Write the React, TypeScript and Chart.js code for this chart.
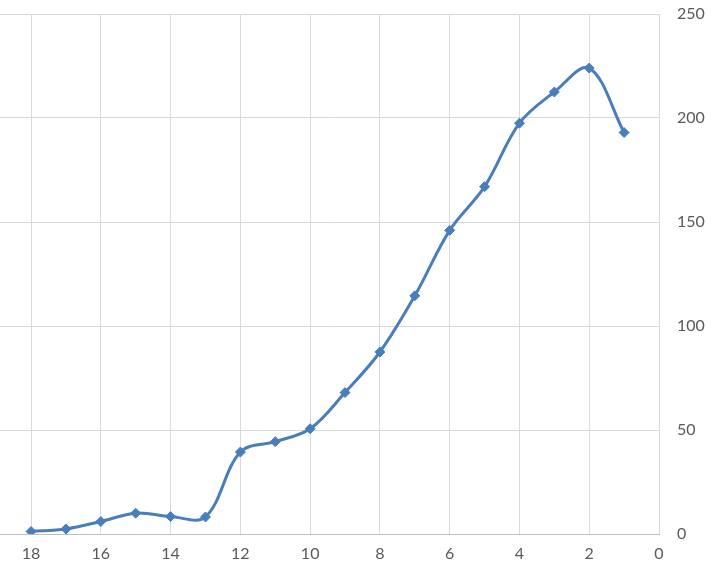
import React, { useEffect, useRef } from "react";
import { Chart, registerables } from "chart.js";

Chart.register(...registerables);

const xValues = [18, 17, 16, 15, 14, 13, 12, 11, 10, 9, 8, 7, 6, 5, 4, 3, 2, 1];
const yValues = [1.2, 2.4, 6, 10, 8.4, 8.2, 39.4, 44.4, 50.6, 68, 87.5, 114.5, 146, 167, 197.5, 212.5, 224, 193];
const xTickValues = [18, 16, 14, 12, 10, 8, 6, 4, 2, 0];
const yTickValues = [0, 50, 100, 150, 200, 250];

export default function App() {
  const ref = useRef<HTMLCanvasElement | null>(null);

  useEffect(() => {
    document.body.style.margin = "0";
    const canvas = ref.current;
    if (!canvas) return;
    const chart = new Chart(canvas, {
      type: "line",
      data: {
        datasets: [
          {
            data: xValues.map((x, i) => ({ x, y: yValues[i] })),
            borderColor: "#4A7EBB",
            backgroundColor: "#4A7EBB",
            borderWidth: 3,
            pointStyle: "rectRot",
            pointRadius: 5,
            pointBorderWidth: 1,
            tension: 0.35,
            fill: false,
          },
        ],
      },
      options: {
        animation: false,
        responsive: false,
        maintainAspectRatio: false,
        devicePixelRatio: 1,
        layout: { autoPadding: false, padding: { left: 0, right: 0, top: 14, bottom: 0 } },
        plugins: { legend: { display: false }, tooltip: { enabled: false } },
        scales: {
          x: {
            type: "linear",
            reverse: true,
            min: 0,
            max: 18.89,
            afterBuildTicks: (scale: any) => {
              scale.ticks = xTickValues.map((v) => ({ value: v }));
            },
            afterFit: (scale: any) => {
              scale.height = 39;
              scale.paddingLeft = 0;
              scale.paddingRight = 0;
            },
            ticks: {
              padding: 10,
              color: "#595959",
              font: { family: "Lato", size: 16 },
              callback: (v: any) => String(v),
            },
            grid: { color: "#D9D9D9", lineWidth: 1, drawTicks: false },
            border: { display: true, color: "#BFBFBF", width: 1 },
          },
          y: {
            type: "linear",
            position: "right",
            min: 0,
            max: 250,
            afterBuildTicks: (scale: any) => {
              scale.ticks = yTickValues.map((v) => ({ value: v }));
            },
            afterFit: (scale: any) => {
              scale.width = 53;
              scale.paddingTop = 0;
              scale.paddingBottom = 0;
            },
            ticks: {
              padding: 18,
              color: "#595959",
              font: { family: "Lato", size: 16 },
              callback: (v: any) => String(v),
            },
            grid: { color: "#D9D9D9", lineWidth: 1, drawTicks: false },
            border: { display: false },
          },
        },
      },
    });
    return () => chart.destroy();
  }, []);

  return (
    <div style={{ width: 712, height: 573, background: "#fff" }}>
      <canvas ref={ref} width={712} height={573} style={{ display: "block" }} />
    </div>
  );
}
